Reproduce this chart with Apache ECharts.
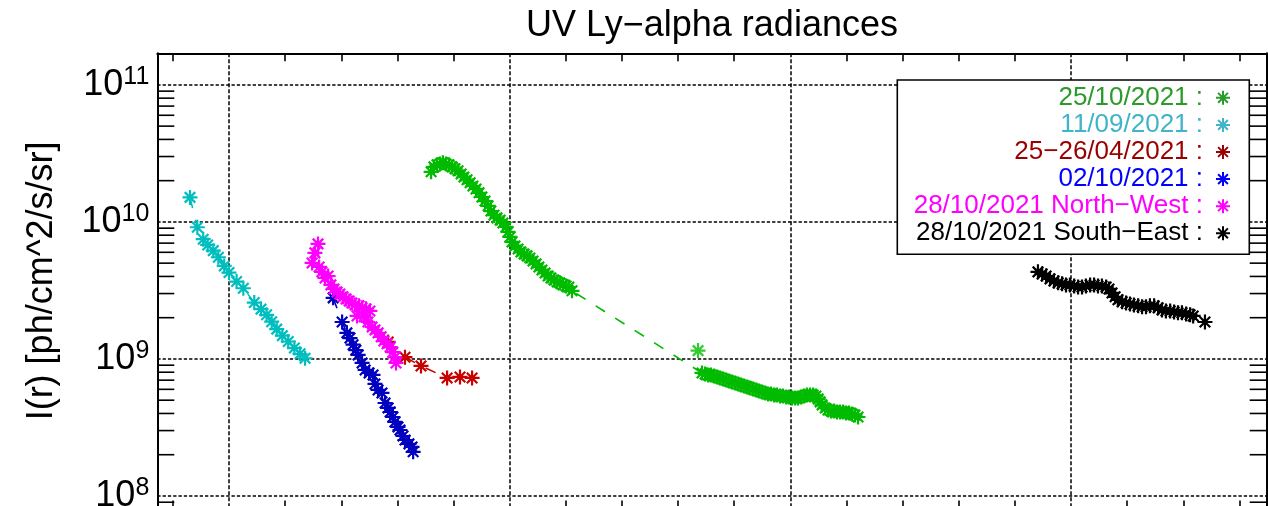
<!DOCTYPE html>
<html><head><meta charset="utf-8">
<script src="https://cdn.jsdelivr.net/npm/echarts@6/dist/echarts.min.js"></script>
<style>html,body{margin:0;padding:0;background:#fff}#c{width:1268px;height:506px}</style>
</head><body><div id="c"></div>
<script>
const TITLE = 'UV Ly\u2212alpha radiances';
const Y_NAME = 'I(r) [ph/cm^2/s/sr]';
const X_MIN = 1.7445, X_MAX = 5.697;
const Y_MIN = 8.1e7, Y_MAX = 1.70e11;
const Y_MINOR_TICKS = [9e7,
  2e8,3e8,4e8,5e8,6e8,7e8,8e8,9e8,
  2e9,3e9,4e9,5e9,6e9,7e9,8e9,9e9,
  2e10,3e10,4e10,5e10,6e10,7e10,8e10,9e10];

const LEGEND_NAMES = ['25/10/2021 :', '11/09/2021 :', '25\u221226/04/2021 :', '02/10/2021 :', '28/10/2021 North\u2212West :', '28/10/2021 South\u2212East :'];

// 25/10/2021 (green)
const greenX = [2.720,2.730,2.741,2.752,2.762,2.773,2.784,2.795,2.805,2.816,2.827,2.837,2.848,2.859,2.869,2.880,2.891,2.901,2.912,2.923,2.933,2.944,2.955,2.966,2.976,2.987,2.994,3.001,3.008,3.019,3.030,3.040,3.051,3.062,3.072,3.083,3.094,3.104,3.115,3.126,3.137,3.147,3.158,3.169,3.179,3.190,3.201,3.211,3.222,
  3.685,3.696,3.707,3.717,3.728,3.739,3.749,3.760,3.771,3.781,3.792,3.803,3.814,3.824,3.835,3.846,3.856,3.867,3.878,3.888,3.899,3.910,3.920,3.931,3.942,3.952,3.963,3.974,3.985,3.995,4.006,4.017,4.027,4.038,4.049,4.059,4.070,4.081,4.091,4.099,4.106,4.113,4.124,4.134,4.145,4.156,4.166,4.177,4.188,4.198,4.209,4.220,4.230,4.241];
const greenY = [2.32e10,2.52e10,2.61e10,2.65e10,2.70e10,2.65e10,2.61e10,2.52e10,2.44e10,2.36e10,2.24e10,2.13e10,2.03e10,1.93e10,1.83e10,1.74e10,1.63e10,1.52e10,1.42e10,1.31e10,1.20e10,1.12e10,1.07e10,1.03e10,9.83e9,9.19e9,8.45e9,7.77e9,7.14e9,6.68e9,6.35e9,6.04e9,5.84e9,5.65e9,5.46e9,5.19e9,4.94e9,4.69e9,4.46e9,4.24e9,4.03e9,3.90e9,3.77e9,3.65e9,3.59e9,3.47e9,3.41e9,3.35e9,3.14e9,
  7.90e8,7.77e8,7.64e8,7.64e8,7.51e8,7.39e8,7.27e8,7.14e8,7.03e8,6.91e8,6.79e8,6.68e8,6.57e8,6.46e8,6.35e8,6.25e8,6.14e8,6.04e8,5.94e8,5.84e8,5.74e8,5.65e8,5.55e8,5.55e8,5.46e8,5.46e8,5.37e8,5.37e8,5.28e8,5.28e8,5.19e8,5.19e8,5.19e8,5.28e8,5.37e8,5.46e8,5.46e8,5.46e8,5.37e8,5.11e8,4.86e8,4.62e8,4.39e8,4.24e8,4.17e8,4.17e8,4.10e8,4.10e8,4.10e8,4.03e8,4.03e8,3.97e8,3.90e8,3.77e8];
const greenExtraX = [3.671];
const greenExtraY = [1.15e9];

// 11/09/2021 (cyan)
const cyanX = [1.861,1.887,1.908,1.924,1.944,1.962,1.983,2.000,2.027,2.051,2.090,2.114,2.134,2.152,2.170,2.190,2.211,2.233,2.253,2.271];
const cyanY = [1.51e10,9.14e9,7.48e9,6.79e9,6.17e9,5.52e9,4.77e9,4.27e9,3.67e9,3.28e9,2.58e9,2.31e9,2.10e9,1.87e9,1.65e9,1.48e9,1.34e9,1.20e9,1.09e9,1.01e9];

// 25-26/04/2021 (dark red)
const redX = [2.567,2.627,2.684,2.777,2.823,2.866];
const redY = [1.33e9,1.03e9,8.89e8,7.27e8,7.39e8,7.27e8];

// 02/10/2021 (blue)
const blueX = [2.371,2.403,2.420,2.431,2.442,2.452,2.460,2.474,2.485,2.499,2.513,2.520,2.531,2.545,2.556,2.567,2.574,2.584,2.591,2.602,2.609,2.620,2.627,2.641,2.652,2.656];
const blueY = [2.79e9,1.86e9,1.55e9,1.42e9,1.27e9,1.16e9,1.07e9,9.35e8,8.31e8,7.90e8,7.64e8,6.57e8,5.94e8,5.65e8,4.77e8,4.39e8,4.10e8,3.77e8,3.47e8,3.19e8,3.03e8,2.74e8,2.56e8,2.40e8,2.28e8,2.10e8];

// 28/10/2021 North-West (magenta)
const magX = [2.296,2.306,2.317,2.321,2.331,2.342,2.353,2.363,2.374,2.385,2.395,2.406,2.417,2.428,2.438,2.449,2.456,2.463,2.474,2.481,2.488,2.495,2.502,2.510,2.520,2.531,2.542,2.552,2.563,2.574,2.584,2.591,2.595];
const magY = [5.02e9,5.94e9,6.91e9,4.69e9,4.32e9,3.90e9,4.03e9,3.47e9,3.24e9,3.08e9,2.98e9,2.84e9,2.74e9,2.65e9,2.56e9,2.48e9,2.06e9,2.44e9,2.36e9,2.03e9,2.32e9,1.86e9,2.24e9,1.71e9,1.63e9,1.55e9,1.45e9,1.35e9,1.29e9,1.22e9,1.12e9,1.03e9,9.35e8];

// 28/10/2021 South-East (black)
const blackX = [4.882,4.897,4.911,4.925,4.939,4.954,4.968,4.982,4.996,5.011,5.025,5.039,5.053,5.068,5.082,5.096,5.110,5.125,5.135,5.146,5.157,5.167,5.182,5.196,5.210,5.224,5.239,5.253,5.267,5.281,5.296,5.310,5.324,5.338,5.353,5.367,5.381,5.395,5.410,5.424,5.435,5.477];
const blackY = [4.32e9,4.17e9,4.03e9,3.84e9,3.71e9,3.59e9,3.53e9,3.47e9,3.47e9,3.41e9,3.35e9,3.35e9,3.41e9,3.47e9,3.47e9,3.41e9,3.41e9,3.35e9,3.24e9,3.03e9,2.84e9,2.70e9,2.61e9,2.56e9,2.52e9,2.48e9,2.44e9,2.40e9,2.40e9,2.44e9,2.44e9,2.36e9,2.28e9,2.24e9,2.24e9,2.20e9,2.17e9,2.17e9,2.13e9,2.10e9,2.06e9,1.86e9];

const FONT = '"Liberation Sans", Arial, Helvetica, sans-serif';
const STAR = 'path://M0,-1L0,1M-1,0L1,0M-0.7,-0.7L0.7,0.7M-0.7,0.7L0.7,-0.7';
const zip = (xs, ys) => xs.map((x, i) => [x, ys[i]]);

const SERIES_DEF = [
  {name: LEGEND_NAMES[0], x: greenX, y: greenY, color: '#00bb00', legendColor: '#2a9a2a'},
  {name: LEGEND_NAMES[1], x: cyanX, y: cyanY, color: '#00bebe', legendColor: '#40b4c8'},
  {name: LEGEND_NAMES[2], x: redX, y: redY, color: '#c80000', legendColor: '#990000'},
  {name: LEGEND_NAMES[3], x: blueX, y: blueY, color: '#0000c0', legendColor: '#0000ff'},
  {name: LEGEND_NAMES[4], x: magX, y: magY, color: '#ff00ff', legendColor: '#ff00ff'},
  {name: LEGEND_NAMES[5], x: blackX, y: blackY, color: '#000000', legendColor: '#000000'}
];

const series = SERIES_DEF.map(d => ({
  type: 'line', name: d.name, data: zip(d.x, d.y),
  symbol: STAR, symbolSize: 15, showAllSymbol: true,
  itemStyle: {color: d.color, borderColor: d.color, borderWidth: 2.2},
  lineStyle: {color: d.color, width: 1.6, type: [11, 12]},
  emphasis: {disabled: true}, animation: false, silent: true
}));
series.splice(1, 0, {
  type: 'scatter', name: 'green-extra', data: zip(greenExtraX, greenExtraY),
  symbol: STAR, symbolSize: 15,
  itemStyle: {color: '#00bb00', borderColor: '#00bb00', borderWidth: 2.2},
  emphasis: {disabled: true}, animation: false, silent: true
});
series.push({
  type: 'custom', name: 'yminor', data: Y_MINOR_TICKS.map(v => [X_MIN, v]),
  silent: true, animation: false, clip: false,
  renderItem: (params, api) => {
    const v = api.value(1);
    const pl = api.coord([X_MIN, v]);
    const pr = api.coord([X_MAX, v]);
    const st = {stroke: '#000', lineWidth: 1.6};
    return {type: 'group', children: [
      {type: 'line', shape: {x1: pl[0], y1: pl[1], x2: pl[0] + 17, y2: pl[1]}, style: st},
      {type: 'line', shape: {x1: pr[0] - 17, y1: pr[1], x2: pr[0], y2: pr[1]}, style: st}
    ]};
  }
});

const LEGEND_TOPS = [83.8, 110.9, 138, 165.1, 192.2, 219.3];
const legends = SERIES_DEF.map((d, i) => ({
  show: true, orient: 'vertical', right: 37, top: LEGEND_TOPS[i], padding: 0,
  itemWidth: 14, itemHeight: 14, align: 'right', selectedMode: false, z: 6,
  data: [{name: d.name, icon: STAR,
    itemStyle: {color: d.legendColor, borderColor: d.legendColor, borderWidth: 2}}],
  textStyle: {fontSize: 26, fontFamily: FONT, color: d.legendColor, lineHeight: 28, padding: [0, 8, 0, 0]}
}));

const gridLine = (type) => ({show: true, lineStyle: {color: '#000', width: 1.5, type: type}});

const option = {
  backgroundColor: '#fff',
  animation: false,
  title: {text: TITLE, left: 712, top: 8, textAlign: 'center', padding: 0,
    textStyle: {fontSize: 36, fontWeight: 'normal', fontFamily: FONT, color: '#000', lineHeight: 36}},
  legend: legends,
  graphic: [{type: 'rect', z: 5, shape: {x: 897.3, y: 80, width: 352, height: 174.3},
    style: {fill: '#fff', stroke: '#000', lineWidth: 1.6}}],
  grid: {left: 157.3, right: 1.3, top: 53.3, bottom: -2.5, containLabel: false, outerBoundsMode: 'none'},
  xAxis: [
    {type: 'value', position: 'bottom', min: X_MIN, max: X_MAX, minInterval: 1, maxInterval: 1,
      axisLine: {show: true, onZero: false, lineStyle: {color: '#000', width: 2}},
      axisTick: {show: false, inside: true},
      minorTick: {show: true, splitNumber: 5, length: 8, lineStyle: {color: '#000', width: 1.6}},
      axisLabel: {show: false}, splitLine: gridLine([4, 2])},
    {type: 'value', position: 'top', min: X_MIN, max: X_MAX, minInterval: 1, maxInterval: 1,
      axisLine: {show: true, onZero: false, lineStyle: {color: '#000', width: 2}},
      axisTick: {show: false, inside: true},
      minorTick: {show: true, splitNumber: 5, length: 8, lineStyle: {color: '#000', width: 1.6}},
      axisLabel: {show: false}, splitLine: {show: false}}
  ],
  yAxis: [
    {type: 'log', logBase: 10, min: Y_MIN, max: Y_MAX, position: 'left',
      name: Y_NAME, nameLocation: 'middle', nameGap: 97, nameRotate: 90,
      nameTextStyle: {fontSize: 36, fontFamily: FONT, color: '#000'},
      axisLine: {show: true, onZero: false, lineStyle: {color: '#000', width: 2}},
      axisTick: {show: false}, minorTick: {show: false},
      axisLabel: {show: true, margin: 8, showMinLabel: false, showMaxLabel: false,
        formatter: (v) => {
          const e = Math.log10(v); const r = Math.round(e);
          if (Math.abs(e - r) > 1e-6) return '';
          return '{b|10}{s|' + r + '}';
        },
        rich: {
          b: {fontSize: 36, lineHeight: 40, verticalAlign: 'middle', fontFamily: FONT, color: '#000'},
          s: {fontSize: 25, lineHeight: 21, verticalAlign: 'top', fontFamily: FONT, color: '#000'}
        }},
      splitLine: gridLine([3.3, 2])},
    {type: 'log', logBase: 10, min: Y_MIN, max: Y_MAX, position: 'right',
      axisLine: {show: true, onZero: false, lineStyle: {color: '#000', width: 2}},
      axisTick: {show: false}, axisLabel: {show: false}, splitLine: {show: false}}
  ],
  series: series
};

const chart = echarts.init(document.getElementById('c'), null, {renderer: 'canvas', width: 1268, height: 506});
chart.setOption(option);
</script>
</body></html>
